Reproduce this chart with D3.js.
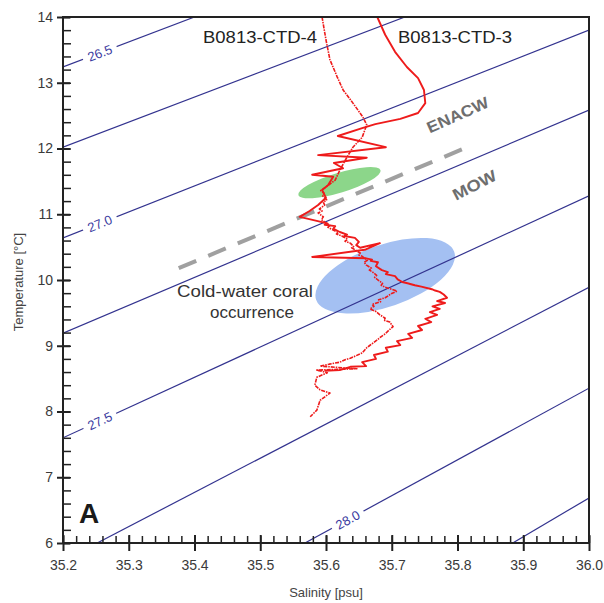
<!DOCTYPE html>
<html>
<head>
<meta charset="utf-8">
<title>T-S diagram B0813</title>
<script src="https://d3js.org/d3.v7.min.js"></script>
<style>
  body { margin: 0; background: #fff; }
  svg { display: block; font-family: "Liberation Sans", Arial, sans-serif; }
  .iso { fill: none; stroke: #33338f; stroke-width: 1.2px; }
  .isolabel { fill: #3a3aa0; font-size: 13px; }
  .ctd { fill: none; stroke: #ee1b1b; stroke-linejoin: round; }
  .tick text { font-size: 14px; fill: #3a3a3a; font-family: "Liberation Sans", Arial, sans-serif; }
</style>
</head>
<body>
<script>
// axis ticks
const salinityTicks = [35.2, 35.3, 35.4, 35.5, 35.6, 35.7, 35.8, 35.9, 36.0];
const temperatureTicks = [6, 7, 8, 9, 10, 11, 12, 13, 14];

// isopycnals (sigma-theta), where each one enters and leaves the frame [S, T]
const isoLevels = [26.5, 26.75, 27.0, 27.25, 27.5, 27.75, 28.0, 28.25];
const isoStart = [[35.2, 13.24], [35.2, 12.02], [35.2, 10.64], [35.2, 9.19],
                  [35.2, 7.60], [35.252, 6.0], [35.568, 6.0], [35.884, 6.0]];
const isoEnd = [[35.40, 14.0], [35.72, 14.0], [36.0, 13.80], [36.0, 12.585],
                [36.0, 11.28], [36.0, 9.89], [36.0, 8.355], [36.0, 6.685]];
const isoLabels = ["26.5", null, "27.0", null, "27.5", null, "28.0", null];
const isoLabelS = [35.256, null, 35.256, null, 35.256, null, 35.633, null];

// CTD profiles [S, T]
const ctd3 = [
  [35.678, 14.00], [35.690, 13.73], [35.705, 13.47], [35.723, 13.24], [35.740, 13.07],
  [35.749, 12.89], [35.751, 12.69], [35.740, 12.54], [35.713, 12.45], [35.675, 12.37],
  [35.655, 12.31], [35.618, 12.19], [35.691, 12.02], [35.588, 11.90], [35.662, 11.86],
  [35.612, 11.78], [35.626, 11.70], [35.579, 11.60], [35.611, 11.57], [35.603, 11.44],
  [35.594, 11.37], [35.600, 11.25], [35.588, 11.14], [35.575, 11.05], [35.560, 10.96],
  [35.594, 10.88], [35.602, 10.86], [35.598, 10.84], [35.614, 10.82], [35.611, 10.78],
  [35.621, 10.73], [35.632, 10.69], [35.628, 10.67], [35.644, 10.64], [35.650, 10.58],
  [35.646, 10.53], [35.652, 10.49], [35.682, 10.56], [35.659, 10.46], [35.579, 10.35],
  [35.661, 10.33], [35.670, 10.31], [35.668, 10.29], [35.679, 10.27], [35.676, 10.21],
  [35.685, 10.15], [35.694, 10.12], [35.691, 10.09], [35.705, 10.06], [35.709, 10.01],
  [35.716, 9.97], [35.724, 9.95], [35.735, 9.92], [35.745, 9.90], [35.761, 9.86],
  [35.766, 9.84], [35.773, 9.82], [35.779, 9.78], [35.784, 9.73],
  [35.769, 9.68], [35.781, 9.65], [35.762, 9.60], [35.773, 9.56],
  [35.758, 9.51], [35.769, 9.47], [35.751, 9.41], [35.760, 9.36], [35.740, 9.30],
  [35.746, 9.24], [35.725, 9.18], [35.731, 9.12], [35.708, 9.07], [35.713, 9.01],
  [35.691, 8.97], [35.694, 8.91], [35.673, 8.86], [35.676, 8.80], [35.655, 8.75],
  [35.661, 8.69], [35.637, 8.68], [35.621, 8.63], [35.598, 8.62]
];
const ctd4 = [
  [35.594, 14.00], [35.600, 13.65], [35.606, 13.35], [35.617, 13.09], [35.626, 12.89],
  [35.641, 12.69], [35.656, 12.48], [35.662, 12.36], [35.655, 12.17], [35.641, 12.02],
  [35.632, 11.87], [35.621, 11.67], [35.614, 11.52], [35.598, 11.40], [35.592, 11.36],
  [35.597, 11.32], [35.595, 11.28], [35.601, 11.22], [35.596, 11.18], [35.598, 11.14],
  [35.590, 11.08], [35.594, 11.05], [35.588, 11.02], [35.596, 10.96], [35.593, 10.92],
  [35.598, 10.88], [35.606, 10.83], [35.603, 10.80], [35.611, 10.76], [35.619, 10.72],
  [35.616, 10.70], [35.624, 10.67], [35.633, 10.62], [35.629, 10.59], [35.637, 10.56],
  [35.642, 10.51], [35.639, 10.49], [35.644, 10.46], [35.652, 10.41], [35.650, 10.38],
  [35.655, 10.36], [35.663, 10.30], [35.658, 10.27], [35.661, 10.23], [35.669, 10.18],
  [35.666, 10.15], [35.671, 10.12], [35.677, 10.07], [35.674, 10.04], [35.679, 10.00],
  [35.686, 9.95], [35.684, 9.92], [35.690, 9.89], [35.700, 9.86], [35.708, 9.83],
  [35.699, 9.79], [35.690, 9.73], [35.680, 9.70], [35.683, 9.67], [35.670, 9.63],
  [35.673, 9.60], [35.667, 9.56], [35.676, 9.52], [35.682, 9.47], [35.690, 9.42],
  [35.688, 9.39], [35.697, 9.36], [35.702, 9.29], [35.696, 9.24], [35.690, 9.18],
  [35.684, 9.14], [35.678, 9.09], [35.670, 9.03], [35.666, 9.00], [35.662, 8.97],
  [35.655, 8.89], [35.646, 8.85], [35.637, 8.81], [35.630, 8.79], [35.621, 8.75],
  [35.605, 8.72], [35.591, 8.69], [35.647, 8.65], [35.586, 8.63], [35.602, 8.59],
  [35.586, 8.52], [35.583, 8.40], [35.591, 8.33], [35.606, 8.28], [35.591, 8.17],
  [35.586, 8.02], [35.576, 7.92]
];

// water-mass boundary (dashed) and highlighted zones: long-axis ends [S, T] + half thickness in °C
const boundary = [[35.376, 10.18], [35.822, 12.05]];
const zoneNames = ["green", "coral"];
const zoneEnds = [[[35.558, 11.29], [35.683, 11.67]], [[35.585, 9.70], [35.795, 10.43]]];
const zoneHalfT = [0.15, 0.47];
const zoneColors = ["#8cd68a", "#a4c0f2"];

const width = 604, height = 603;
const margin = { top: 17, right: 15, bottom: 60, left: 63 };

const x = d3.scaleLinear().domain([35.2, 36.0]).range([margin.left, width - margin.right]);
const y = d3.scaleLinear().domain([6, 14]).range([height - margin.bottom, margin.top]);

const svg = d3.select("body").append("svg")
    .attr("width", width)
    .attr("height", height);

svg.append("defs").append("clipPath").attr("id", "plot")
  .append("rect")
    .attr("x", x(35.2)).attr("y", y(14))
    .attr("width", x(36.0) - x(35.2)).attr("height", y(6) - y(14));

const plot = svg.append("g").attr("clip-path", "url(#plot)");

// zones
zoneEnds.forEach((e, i) => {
  const x0 = x(e[0][0]), y0 = y(e[0][1]), x1 = x(e[1][0]), y1 = y(e[1][1]);
  const ang = Math.atan2(y1 - y0, x1 - x0) * 180 / Math.PI;
  plot.append("ellipse")
      .attr("class", "zone " + zoneNames[i])
      .attr("cx", (x0 + x1) / 2).attr("cy", (y0 + y1) / 2)
      .attr("rx", Math.hypot(x1 - x0, y1 - y0) / 2)
      .attr("ry", y(0) - y(zoneHalfT[i]))
      .attr("transform", `rotate(${ang},${(x0 + x1) / 2},${(y0 + y1) / 2})`)
      .attr("fill", zoneColors[i]);
});

// isopycnals
const line = d3.line().x(d => x(d[0])).y(d => y(d[1]));
isoLevels.forEach((lev, i) => {
  plot.append("path")
      .attr("class", "iso")
      .attr("d", line([isoStart[i], isoEnd[i]]));
});

// dashed ENACW / MOW boundary
plot.append("path")
    .attr("d", line(boundary))
    .attr("fill", "none")
    .attr("stroke", "#a0a0a0")
    .attr("stroke-width", 4)
    .attr("stroke-dasharray", "19,13");

// CTD profiles
plot.append("path").attr("class", "ctd")
    .attr("d", line(ctd4))
    .attr("stroke-width", 1.6)
    .attr("stroke-dasharray", "4,1,1.5,1");
plot.append("path").attr("class", "ctd")
    .attr("d", line(ctd3))
    .attr("stroke-width", 1.9);

// isopycnal labels
isoLabels.forEach((lab, i) => {
  if (!lab) return;
  const s0 = isoStart[i], s1 = isoEnd[i];
  const t = s0[1] + (s1[1] - s0[1]) * (isoLabelS[i] - s0[0]) / (s1[0] - s0[0]);
  const px = x(isoLabelS[i]), py = y(t);
  const ang = Math.atan2(y(s1[1]) - y(s0[1]), x(s1[0]) - x(s0[0])) * 180 / Math.PI;
  const g = svg.append("g").attr("transform", `translate(${px},${py}) rotate(${ang})`);
  g.append("rect").attr("x", -18).attr("y", -7).attr("width", 36).attr("height", 14).attr("fill", "#fff");
  g.append("text").attr("class", "isolabel")
      .attr("text-anchor", "middle").attr("dy", "0.36em")
      .text(lab);
});

// texts
const txt = (s, px, py, opts = {}) => {
  const t = svg.append("text").attr("x", px).attr("y", py).text(s)
      .attr("font-size", opts.size || 17)
      .attr("fill", opts.fill || "#222");
  if (opts.anchor) t.attr("text-anchor", opts.anchor);
  if (opts.weight) t.attr("font-weight", opts.weight);
  if (opts.len) t.attr("textLength", opts.len).attr("lengthAdjust", "spacingAndGlyphs");
  if (opts.rotate) t.attr("transform", `rotate(${opts.rotate},${px},${py})`);
  return t;
};
txt("B0813-CTD-4", 203, 43, { size: 16.5, len: 114 });
txt("B0813-CTD-3", 398, 43, { size: 16.5, len: 114 });
txt("ENACW", 460, 120, { size: 16, weight: "bold", fill: "#6e6e6e", anchor: "middle", len: 66, rotate: -24 });
txt("MOW", 477, 190, { size: 16, weight: "bold", fill: "#6e6e6e", anchor: "middle", len: 47, rotate: -27 });
txt("Cold-water coral", 245, 297, { size: 17, anchor: "middle", fill: "#333", len: 136 });
txt("occurrence", 252, 318, { size: 17, anchor: "middle", fill: "#333" });
txt("A", 79, 523, { size: 28, weight: "bold", fill: "#1a1a1a" });

// axes: major ticks cross the frame, minor ticks point inside
const yb = y(6), xl = x(35.2);
svg.append("g")
    .attr("transform", `translate(0,${yb})`)
    .call(d3.axisBottom(x).tickValues(x.ticks(40)).tickSize(-7).tickFormat(""))
    .call(g => g.select(".domain").remove())
    .call(g => g.selectAll(".tick line").attr("stroke", "#222").attr("stroke-width", 1.5));
svg.append("g")
    .attr("transform", `translate(0,${yb})`)
    .call(d3.axisBottom(x).tickValues(salinityTicks).tickSize(8).tickPadding(9).tickFormat(d3.format(".1f")))
    .call(g => g.select(".domain").remove())
    .call(g => g.selectAll(".tick line").attr("y1", -8).attr("stroke", "#222").attr("stroke-width", 2));

svg.append("g")
    .attr("transform", `translate(${xl},0)`)
    .call(d3.axisLeft(y).tickValues(y.ticks(40)).tickSize(-8).tickFormat(""))
    .call(g => g.select(".domain").remove())
    .call(g => g.selectAll(".tick line").attr("stroke", "#222").attr("stroke-width", 1.5));
svg.append("g")
    .attr("transform", `translate(${xl},0)`)
    .call(d3.axisLeft(y).tickValues(temperatureTicks).tickSize(6).tickPadding(4))
    .call(g => g.select(".domain").remove())
    .call(g => g.selectAll(".tick line").attr("x1", 7).attr("stroke", "#222").attr("stroke-width", 2));

// frame
svg.append("rect")
    .attr("x", xl).attr("y", y(14))
    .attr("width", x(36.0) - xl).attr("height", yb - y(14))
    .attr("fill", "none").attr("stroke", "#222").attr("stroke-width", 2);

// axis titles
svg.append("text")
    .attr("transform", `translate(23,${(y(6) + y(14)) / 2 + 2}) rotate(-90)`)
    .attr("text-anchor", "middle")
    .attr("font-size", 13).attr("fill", "#444")
    .text("Temperature [°C]");
svg.append("text")
    .attr("x", (x(35.2) + x(36.0)) / 2).attr("y", 597)
    .attr("text-anchor", "middle")
    .attr("font-size", 13).attr("fill", "#444")
    .text("Salinity [psu]");
</script>
</body>
</html>
